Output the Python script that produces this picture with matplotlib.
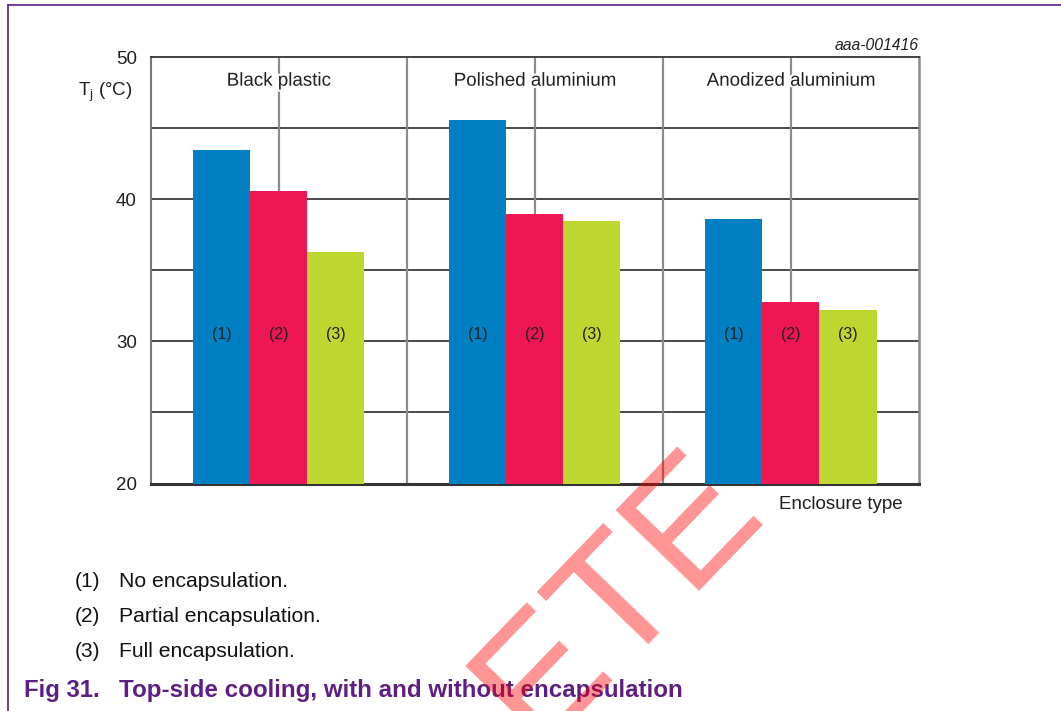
import matplotlib
matplotlib.use('Agg')
import matplotlib.pyplot as plt
import numpy as np
from matplotlib import patheffects as pe
from matplotlib.lines import Line2D

# ---------------- data ----------------
categories = ["Black plastic", "Polished aluminium", "Anodized aluminium"]
no_encap = [43.5, 45.6, 38.6]
partial_encap = [40.6, 39.0, 32.8]
full_encap = [36.3, 38.5, 32.2]
series_labels = ["(1)", "(2)", "(3)"]
legend_texts = ["No encapsulation.", "Partial encapsulation.", "Full encapsulation."]
yticks = [20, 30, 40, 50]
minor_yticks = [25, 35, 45]

# ---------------- style ----------------
plt.rcParams['font.family'] = ['Liberation Sans', 'DejaVu Sans']
plt.rcParams['mathtext.fontset'] = 'custom'
plt.rcParams['mathtext.rm'] = 'Liberation Sans'
plt.rcParams['mathtext.it'] = 'Liberation Sans:italic'

W, H = 1061, 711
TXT = '#231f20'
PURPLE = '#5d1f82'
colors = ['#0080c2', '#ee1655', '#bed630']

fig = plt.figure(figsize=(W / 100, H / 100), dpi=100)
left, right, top, bottom = 150.7, 919, 57.3, 483.5
ax = fig.add_axes([left / W, 1 - bottom / H, (right - left) / W, (bottom - top) / H])

x = np.arange(len(categories)) + 0.5
bw = 0.2227
series = [no_encap, partial_encap, full_encap]
for i, (vals, c) in enumerate(zip(series, colors)):
    xs = x + (i - 1) * bw
    ax.bar(xs, vals, width=bw, color=c, zorder=3, linewidth=0)
    for xi in xs:
        ax.text(xi, 30.2, series_labels[i], ha='center', va='baseline',
                fontsize=11.5, color=TXT, zorder=4)

ax.set_xlim(0, 3)
ax.set_ylim(20, 50)
ax.set_yticks(yticks)
ax.set_yticks(minor_yticks, minor=True)
ax.set_xticks([])
ax.tick_params(axis='y', which='both', length=0, pad=10, labelsize=13.5, labelcolor=TXT)

for yv in minor_yticks + [30, 40]:
    ax.axhline(yv, color='#3a3a3a', lw=1.3, zorder=1)
for xv in [0.5, 1.0, 1.5, 2.0, 2.5]:
    ax.axvline(xv, color='#8c8c8c', lw=1.6, zorder=1)

ax.spines['top'].set_color('#333333')
ax.spines['top'].set_linewidth(1.3)
ax.spines['bottom'].set_color('#333333')
ax.spines['bottom'].set_linewidth(2.2)
ax.spines['left'].set_color('#777777')
ax.spines['left'].set_linewidth(1.5)
ax.spines['right'].set_color('#8c8c8c')
ax.spines['right'].set_linewidth(1.8)

for xc, name in zip(x, categories):
    ax.text(xc, 48.0, name, ha='center', va='baseline', fontsize=13.5, color=TXT,
            zorder=5, path_effects=[pe.withStroke(linewidth=3, foreground='white')])

# axis titles & id
fig.text(133 / W, 1 - 96.5 / H, r'T$_{\mathregular{j}}$ (°C)', ha='right', va='baseline',
         fontsize=13.5, color=TXT)
fig.text(919 / W, 1 - 50.5 / H, 'aaa-001416', ha='right', va='baseline',
         fontsize=11.3, style='italic', color=TXT)
fig.text(903 / W, 1 - 509 / H, 'Enclosure type', ha='right', va='baseline',
         fontsize=13.5, color=TXT)

# notes
for i, (lab, txt) in enumerate(zip(series_labels, legend_texts)):
    yb = 1 - (587.3 + 34.7 * i) / H
    fig.text(75 / W, yb, lab, ha='left', va='baseline', fontsize=15, color='#111111')
    fig.text(119 / W, yb, txt, ha='left', va='baseline', fontsize=15.2, color='#111111')

# caption
fig.text(24 / W, 1 - 697 / H, 'Fig 31.', ha='left', va='baseline', fontsize=17.2,
         fontweight='bold', color=PURPLE)
fig.text(119 / W, 1 - 697 / H, 'Top-side cooling, with and without encapsulation',
         ha='left', va='baseline', fontsize=17.4, fontweight='bold', color=PURPLE)

# page border
fig.add_artist(Line2D([8 / W, 1], [1 - 4.5 / H] * 2, transform=fig.transFigure,
                      color=PURPLE, lw=1.2))
fig.add_artist(Line2D([8 / W] * 2, [0, 1 - 4.5 / H], transform=fig.transFigure,
                      color=PURPLE, lw=1.2))

# watermark
fig.text(766 / W, 1 - 513 / H, 'OBSOLETE', fontsize=122, color='red', alpha=0.42,
         rotation=46, rotation_mode='anchor', ha='right', va='baseline', zorder=100)

fig.savefig('out.png', dpi=100)
